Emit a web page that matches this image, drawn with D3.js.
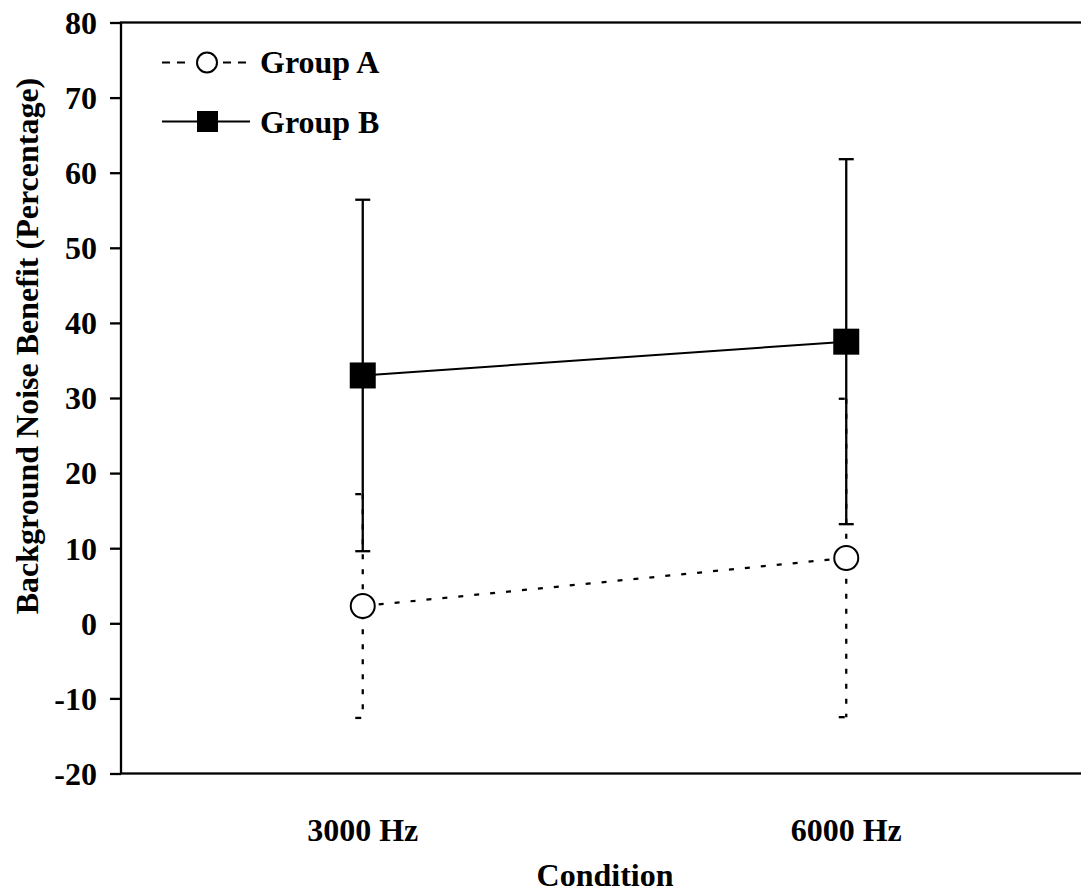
<!DOCTYPE html>
<html>
<head>
<meta charset="utf-8">
<script src="https://cdn.jsdelivr.net/npm/d3@7"></script>
<style>
  body { margin: 0; background: #fff; }
  svg text { font-family: "Liberation Serif", "Times New Roman", Times, serif; font-weight: 700; fill: #000; }
</style>
</head>
<body>
<div id="chart"></div>
<script>
// data
const categories = ["3000 Hz", "6000 Hz"];
const groupA = [2.3, 8.7];
const groupAErr = [14.9, 21.2];
const groupB = [33.0, 37.5];
const groupBErr = [23.4, 24.3];
const yTicks = [-20, -10, 0, 10, 20, 30, 40, 50, 60, 70, 80];
const seriesNames = ["Group A", "Group B"];

const W = 1081, H = 896;
const plotL = 121, plotR = 1088, plotT = 22.5, plotB = 773.5;
const fontSize = 32;
const serif = "Liberation Serif, Times New Roman, Times, serif";

const svg = d3.select("#chart").append("svg")
  .attr("width", W)
  .attr("height", H)
  .attr("font-family", serif);

const x = d3.scalePoint()
  .domain(categories)
  .range([plotL, plotR])
  .padding(0.5);

const y = d3.scaleLinear()
  .domain([-20, 80])
  .range([plotB, plotT]);

// frame
svg.append("rect")
  .attr("x", plotL).attr("y", plotT)
  .attr("width", plotR - plotL).attr("height", plotB - plotT)
  .attr("fill", "none")
  .attr("stroke", "#000")
  .attr("stroke-width", 2.3);

// y axis
const yAxis = svg.append("g")
  .attr("transform", "translate(" + plotL + ",0)")
  .call(d3.axisLeft(y).tickValues(yTicks).tickFormat(d => String(d))
    .tickSize(11).tickSizeOuter(0).tickPadding(13));
yAxis.select(".domain").remove();
yAxis.attr("font-family", serif).attr("font-size", null);
yAxis.selectAll("line").attr("stroke", "#000").attr("stroke-width", 2.3);
yAxis.selectAll("text")
  .attr("font-size", fontSize)
  .attr("dy", "0.34em");

// x labels
svg.append("g").selectAll("text")
  .data(categories)
  .join("text")
  .attr("x", d => x(d))
  .attr("y", 841)
  .attr("text-anchor", "middle")
  .attr("font-size", fontSize)
  .text(d => d);

svg.append("text")
  .attr("x", 605)
  .attr("y", 886)
  .attr("text-anchor", "middle")
  .attr("font-size", fontSize)
  .text("Condition");

svg.append("text")
  .attr("transform", "translate(38,346) rotate(-90)")
  .attr("text-anchor", "middle")
  .attr("font-size", fontSize)
  .text("Background Noise Benefit (Percentage)");

const capW = 7.5;

// Group A error bars (dashed)
const errA = svg.append("g");
categories.forEach((c, i) => {
  errA.append("line")
    .attr("x1", x(c)).attr("x2", x(c))
    .attr("y1", y(groupA[i] + groupAErr[i])).attr("y2", y(groupA[i] - groupAErr[i]))
    .attr("stroke", "#000").attr("stroke-width", 2.3)
    .attr("stroke-dasharray", "5,10");
  [groupA[i] + groupAErr[i], groupA[i] - groupAErr[i]].forEach(v => {
    errA.append("line")
      .attr("x1", x(c) - capW).attr("x2", x(c) + capW)
      .attr("y1", y(v)).attr("y2", y(v))
      .attr("stroke", "#000").attr("stroke-width", 2.3)
      .attr("stroke-dasharray", "6,20");
  });
});

// Group B error bars (solid)
const errB = svg.append("g");
categories.forEach((c, i) => {
  errB.append("line")
    .attr("x1", x(c)).attr("x2", x(c))
    .attr("y1", y(groupB[i] + groupBErr[i])).attr("y2", y(groupB[i] - groupBErr[i]))
    .attr("stroke", "#000").attr("stroke-width", 2.3);
  [groupB[i] + groupBErr[i], groupB[i] - groupBErr[i]].forEach(v => {
    errB.append("line")
      .attr("x1", x(c) - capW).attr("x2", x(c) + capW)
      .attr("y1", y(v)).attr("y2", y(v))
      .attr("stroke", "#000").attr("stroke-width", 2.3);
  });
});

// lines
const line = d3.line()
  .x((d, i) => x(categories[i]))
  .y(d => y(d));

svg.append("path")
  .datum(groupA)
  .attr("fill", "none")
  .attr("stroke", "#000")
  .attr("stroke-width", 2.2)
  .attr("stroke-dasharray", "5,11")
  .attr("d", line);

svg.append("path")
  .datum(groupB)
  .attr("fill", "none")
  .attr("stroke", "#000")
  .attr("stroke-width", 2)
  .attr("d", line);

// markers
svg.append("g").selectAll("circle")
  .data(groupA)
  .join("circle")
  .attr("cx", (d, i) => x(categories[i]))
  .attr("cy", d => y(d))
  .attr("r", 12)
  .attr("fill", "#fff")
  .attr("stroke", "#000")
  .attr("stroke-width", 2);

const sq = 26;
svg.append("g").selectAll("rect")
  .data(groupB)
  .join("rect")
  .attr("x", (d, i) => x(categories[i]) - sq / 2)
  .attr("y", d => y(d) - sq / 2)
  .attr("width", sq)
  .attr("height", sq)
  .attr("fill", "#000");

// legend
const legend = svg.append("g");
[[162, 186], [223, 246]].forEach(seg => {
  legend.append("line")
    .attr("x1", seg[0]).attr("x2", seg[1]).attr("y1", 62.5).attr("y2", 62.5)
    .attr("stroke", "#000").attr("stroke-width", 2)
    .attr("stroke-dasharray", "8,7");
});
legend.append("circle")
  .attr("cx", 207).attr("cy", 62.5).attr("r", 10)
  .attr("fill", "#fff").attr("stroke", "#000").attr("stroke-width", 2);
legend.append("line")
  .attr("x1", 162).attr("x2", 250).attr("y1", 121.5).attr("y2", 121.5)
  .attr("stroke", "#000").attr("stroke-width", 2);
legend.append("rect")
  .attr("x", 197).attr("y", 111).attr("width", 21).attr("height", 21)
  .attr("fill", "#000");
legend.selectAll("text")
  .data(seriesNames)
  .join("text")
  .attr("x", 260)
  .attr("y", (d, i) => i === 0 ? 73 : 133)
  .attr("font-size", fontSize)
  .text(d => d);
</script>
</body>
</html>
